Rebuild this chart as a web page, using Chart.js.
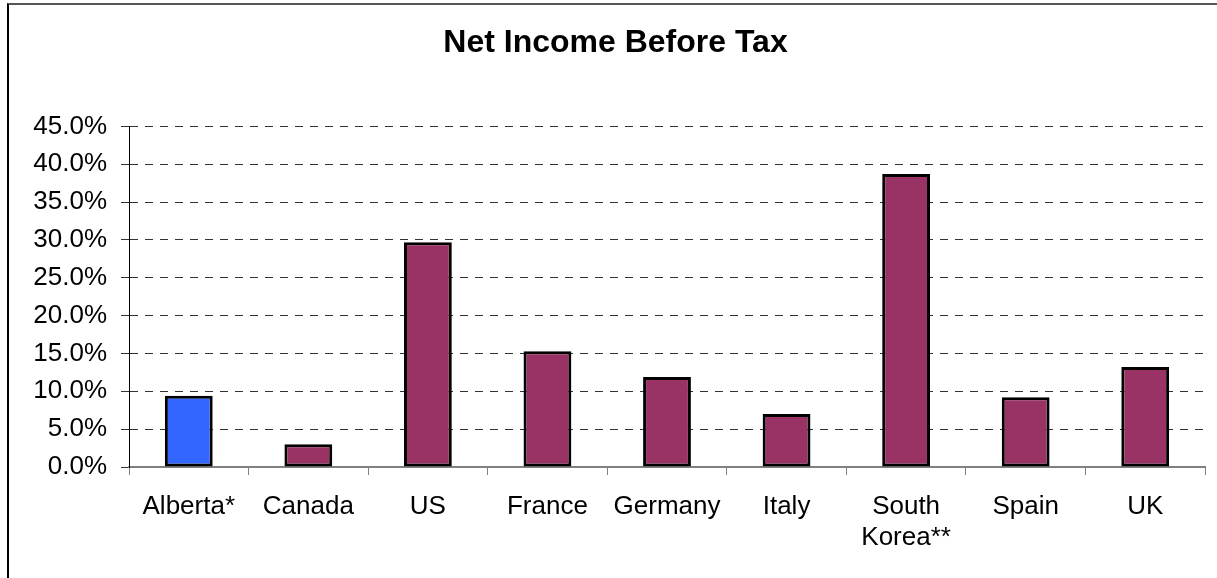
<!DOCTYPE html>
<html>
<head>
<meta charset="utf-8">
<title>Net Income Before Tax</title>
<script src="https://cdn.jsdelivr.net/npm/chart.js@4"></script>
<style>
  body { margin: 0; background: #fff; overflow: hidden; }
  #frame {
    position: absolute; left: 7px; top: 3px; width: 1400px; height: 800px;
    border-left: 2px solid #000; border-top: 2px solid #555;
  }
  #myChart { position: absolute; left: 0; top: 0; }
</style>
</head>
<body>
<div id="frame"></div>
<canvas id="myChart" width="1217" height="578"></canvas>
<script>
// net income before tax, share of revenue (%)
const countries = ['Alberta*', 'Canada', 'US', 'France', 'Germany', 'Italy', ['South', 'Korea**'], 'Spain', 'UK'];
const netIncome = [9.4, 3.0, 29.7, 15.3, 11.9, 7.0, 38.7, 9.2, 13.2];
const barColors = ['#3366FF', '#993366', '#993366', '#993366', '#993366', '#993366', '#993366', '#993366', '#993366'];

const font = "'Liberation Sans', Arial, sans-serif";

const data = {
    labels: countries,
    datasets: [{
        label: 'Net Income Before Tax',
        data: netIncome,
        backgroundColor: barColors,
        borderColor: '#000',
        borderWidth: 3,
        borderSkipped: false,
        barPercentage: 0.4,
        categoryPercentage: 1.0
    }]
};

const config = {
    type: 'bar',
    data: data,
    options: {
        responsive: false,
        animation: false,
        // left padding only nudges the title box; y axis width below keeps the plot at x=129
        layout: { padding: { left: 26, right: 12, top: 0, bottom: 0 } },
        plugins: {
            legend: { display: false },
            tooltip: { enabled: false },
            title: {
                display: true,
                text: 'Net Income Before Tax',
                color: '#000',
                font: { family: font, size: 32, weight: 'bold', lineHeight: 1.2 },
                padding: { top: 24, bottom: 64 }
            }
        },
        scales: {
            x: {
                offset: true,
                grid: {
                    offset: true,
                    drawOnChartArea: false,
                    drawTicks: true,
                    tickLength: 8,
                    tickColor: '#808080'
                },
                border: { display: true, color: '#808080', width: 2 },
                ticks: {
                    color: '#000',
                    font: { family: font, size: 26, lineHeight: 1.2 },
                    padding: 16,
                    maxRotation: 0,
                    autoSkip: false
                },
                afterFit: scale => { scale.height = 111; }
            },
            y: {
                min: 0,
                max: 45,
                grid: {
                    color: '#333',
                    lineWidth: 1,
                    tickLength: 8,
                    tickColor: '#333',
                    tickBorderDash: []
                },
                border: { display: true, color: '#000', width: 1, dash: [8, 7] },
                ticks: {
                    stepSize: 5,
                    color: '#000',
                    padding: 14,
                    font: { family: font, size: 26 },
                    callback: v => v.toFixed(1) + '%'
                },
                afterFit: scale => { scale.width = 103; }
            }
        }
    }
};

const chart = new Chart(document.getElementById('myChart'), config);
</script>
</body>
</html>
